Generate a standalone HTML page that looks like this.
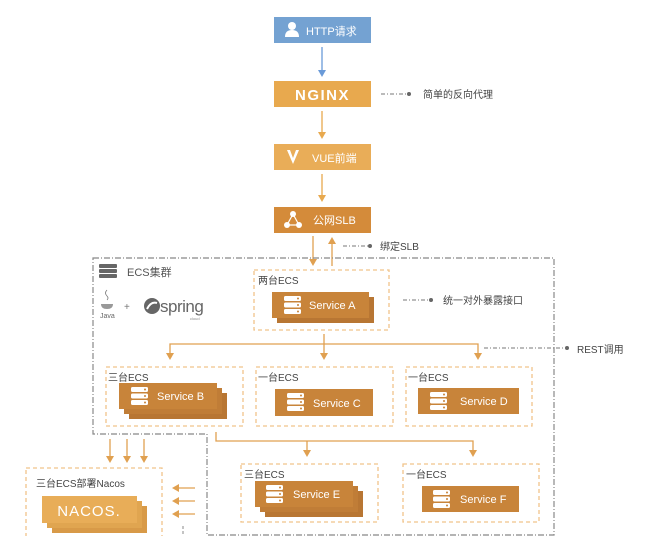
<!DOCTYPE html>
<html><head><meta charset="utf-8"><style>
html,body{margin:0;padding:0;background:#fff;}
svg{display:block;font-family:"Liberation Sans","Noto Sans CJK SC",sans-serif;}
</style></head><body>
<svg width="657" height="536" viewBox="0 0 657 536" xmlns="http://www.w3.org/2000/svg">
<defs>
<marker id="ao" markerWidth="8" markerHeight="8" refX="4" refY="7" orient="auto" markerUnits="userSpaceOnUse"><path d="M0,0 L8,0 L4,8 z" fill="#e0a050" transform="rotate(0)"/></marker>
<g id="srv"><rect x="0" y="0" width="17" height="5" rx="1.5" fill="#fff"/><rect x="0" y="6.5" width="17" height="5" rx="1.5" fill="#fff"/><rect x="0" y="13" width="17" height="5" rx="1.5" fill="#fff"/><circle cx="14" cy="2.5" r="1" fill="#c8843a"/><circle cx="14" cy="9" r="1" fill="#c8843a"/><circle cx="14" cy="15.5" r="1" fill="#c8843a"/></g>
</defs>

<!-- Top chain -->
<rect x="274" y="17" width="97" height="26" fill="#74a2d2"/>
<circle cx="292" cy="26" r="4" fill="#fff"/><path d="M285,37 q0,-7 7,-7 q7,0 7,7 z" fill="#fff"/>
<text x="306" y="35" font-size="11" fill="#fff">HTTP请求</text>
<line x1="322" y1="47" x2="322" y2="72" stroke="#6a9ad8" stroke-width="1.3"/><path d="M318,70 L326,70 L322,77 z" fill="#6a9ad8"/>

<rect x="274" y="81" width="97" height="26" fill="#e8a94e"/>
<text x="322.5" y="100" font-size="15" font-weight="bold" fill="#fff" text-anchor="middle" letter-spacing="1.5">NGINX</text>
<line x1="322" y1="111" x2="322" y2="134" stroke="#e8a94e" stroke-width="1.3"/><path d="M318,132 L326,132 L322,139 z" fill="#e8a94e"/>

<rect x="274" y="144" width="97" height="26" fill="#e9ad58"/>
<path d="M287,150 L293,164 L299,150 L296,150 L293,158 L290,150 z" fill="#fff"/>
<text x="312" y="162" font-size="11" fill="#fff">VUE前端</text>
<line x1="322" y1="174" x2="322" y2="197" stroke="#e8a94e" stroke-width="1.3"/><path d="M318,195 L326,195 L322,202 z" fill="#e8a94e"/>

<rect x="274" y="207" width="97" height="26" fill="#d48b3a"/>
<circle cx="293" cy="214" r="3" fill="#fff"/><circle cx="287" cy="225" r="3" fill="#fff"/><circle cx="299" cy="225" r="3" fill="#fff"/>
<path d="M293,214 L287,225 L299,225 z" fill="none" stroke="#fff" stroke-width="1.2"/>
<text x="313" y="224" font-size="11" fill="#fff">公网SLB</text>

<!-- SLB arrows -->
<line x1="313" y1="236" x2="313" y2="260" stroke="#e0a050" stroke-width="1.3"/><path d="M309,259 L317,259 L313,266 z" fill="#e0a050"/>
<line x1="332" y1="243" x2="332" y2="266" stroke="#e0a050" stroke-width="1.3"/><path d="M328,244 L336,244 L332,237 z" fill="#e0a050"/>

<!-- annotations -->
<g stroke="#777" stroke-width="1" stroke-dasharray="4,2,1,2" fill="none">
<line x1="381" y1="94" x2="407" y2="94"/>
<line x1="343" y1="246" x2="368" y2="246"/>
<line x1="403" y1="300" x2="429" y2="300"/>
<line x1="484" y1="348" x2="564" y2="348"/>
</g>
<g fill="#666"><circle cx="409" cy="94" r="2"/><circle cx="370" cy="246" r="2"/><circle cx="431" cy="300" r="2"/><circle cx="567" cy="348" r="2"/></g>
<g font-size="10" fill="#444">
<text x="423" y="98">简单的反向代理</text>
<text x="380" y="250">绑定SLB</text>
<text x="443" y="304">统一对外暴露接口</text>
<text x="577" y="353">REST调用</text>
</g>

<!-- ECS cluster outline -->
<path d="M93,258 L554,258 L554,535 L207,535 L207,434 L93,434 z" fill="none" stroke="#888" stroke-width="1.2" stroke-dasharray="6,2,1,2"/>
<g fill="#666"><rect x="99" y="264" width="18" height="4" rx="1"/><rect x="99" y="269" width="18" height="4" rx="1"/><rect x="99" y="274" width="18" height="4" rx="1"/></g>
<text x="127" y="276" font-size="11" fill="#555">ECS集群</text>
<path d="M107,290 q-3,3 0,6 q2,2 0,4" stroke="#777" fill="none" stroke-width="0.8"/>
<path d="M101,304 L113,304 q0,5 -6,5 q-6,0 -6,-5 z" fill="#999"/>
<text x="100" y="318" font-size="7" fill="#666">Java</text>
<text x="124" y="310" font-size="10" fill="#777">+</text>
<circle cx="152" cy="306" r="8" fill="#666"/><path d="M147,309 q4,-8 10,-6" stroke="#fff" stroke-width="2" fill="none"/>
<text x="160" y="312" font-size="17" fill="#666" letter-spacing="-0.5">spring</text>
<text x="190" y="320" font-size="4" fill="#888">cloud</text>

<!-- dashed containers -->
<g fill="none" stroke="#f0c48a" stroke-width="1.3" stroke-dasharray="4,3">
<rect x="254" y="270" width="135" height="60"/>
<rect x="106" y="367" width="137" height="59"/>
<rect x="256" y="367" width="137" height="59"/>
<rect x="406" y="367" width="126" height="59"/>
<rect x="241" y="464" width="137" height="58"/>
<rect x="403" y="464" width="136" height="58"/>
<rect x="26" y="468" width="136" height="70"/>
</g>
<g font-size="10" fill="#444">
<text x="258" y="284">两台ECS</text>
<text x="108" y="381">三台ECS</text>
<text x="258" y="381">一台ECS</text>
<text x="408" y="381">一台ECS</text>
<text x="244" y="478">三台ECS</text>
<text x="406" y="478">一台ECS</text>
<text x="36" y="487">三台ECS部署Nacos</text>
</g>

<!-- Service boxes -->
<g fill="#c8843a">
<rect x="277" y="297" width="97" height="26" fill="#b87633"/>
<rect x="272" y="292" width="97" height="26"/>
<rect x="129" y="393" width="98" height="26" fill="#b87633"/>
<rect x="124" y="388" width="98" height="26" fill="#c07d37"/>
<rect x="119" y="383" width="98" height="26"/>
<rect x="275" y="389" width="98" height="27"/>
<rect x="418" y="388" width="101" height="26"/>
<rect x="265" y="491" width="98" height="26" fill="#b87633"/>
<rect x="260" y="486" width="98" height="26" fill="#c07d37"/>
<rect x="255" y="481" width="98" height="26"/>
<rect x="422" y="486" width="97" height="26"/>
</g>
<use href="#srv" x="284" y="296"/>
<use href="#srv" x="131" y="387"/>
<use href="#srv" x="287" y="393"/>
<use href="#srv" x="430" y="392"/>
<use href="#srv" x="266" y="485"/>
<use href="#srv" x="433" y="490"/>
<g font-size="11" fill="#fff">
<text x="309" y="309">Service A</text>
<text x="157" y="400">Service B</text>
<text x="313" y="407">Service C</text>
<text x="460" y="405">Service D</text>
<text x="293" y="498">Service E</text>
<text x="460" y="503">Service F</text>
</g>

<!-- Nacos -->
<rect x="52" y="506" width="95" height="27" fill="#d89a48"/>
<rect x="47" y="501" width="95" height="27" fill="#e0a550"/>
<rect x="42" y="496" width="95" height="27" fill="#e8ad58"/>
<text x="89" y="516" font-size="15" fill="#fff" text-anchor="middle" letter-spacing="1">NACOS.</text>

<!-- connectors -->
<g stroke="#e0a050" stroke-width="1.3" fill="none">
<line x1="324" y1="334" x2="324" y2="354"/>
<polyline points="170,354 170,344 478,344 478,354"/>
<polyline points="216,432 216,441 473,441 473,451"/>
<line x1="307" y1="441" x2="307" y2="451"/>
<line x1="110" y1="439" x2="110" y2="457"/>
<line x1="127" y1="439" x2="127" y2="457"/>
<line x1="144" y1="439" x2="144" y2="457"/>
<line x1="178" y1="488" x2="195" y2="488"/>
<line x1="178" y1="501" x2="195" y2="501"/>
<line x1="178" y1="514" x2="195" y2="514"/>
</g>
<g fill="#e0a050">
<path d="M166,353 L174,353 L170,360 z"/><path d="M320,353 L328,353 L324,360 z"/><path d="M474,353 L482,353 L478,360 z"/>
<path d="M303,450 L311,450 L307,457 z"/><path d="M469,450 L477,450 L473,457 z"/>
<path d="M106,456 L114,456 L110,463 z"/><path d="M123,456 L131,456 L127,463 z"/><path d="M140,456 L148,456 L144,463 z"/>
<path d="M179,484 L179,492 L172,488 z"/><path d="M179,497 L179,505 L172,501 z"/><path d="M179,510 L179,518 L172,514 z"/>
</g>
<line x1="183" y1="526" x2="183" y2="536" stroke="#888" stroke-width="1" stroke-dasharray="3,2"/>
</svg>
</body></html>
